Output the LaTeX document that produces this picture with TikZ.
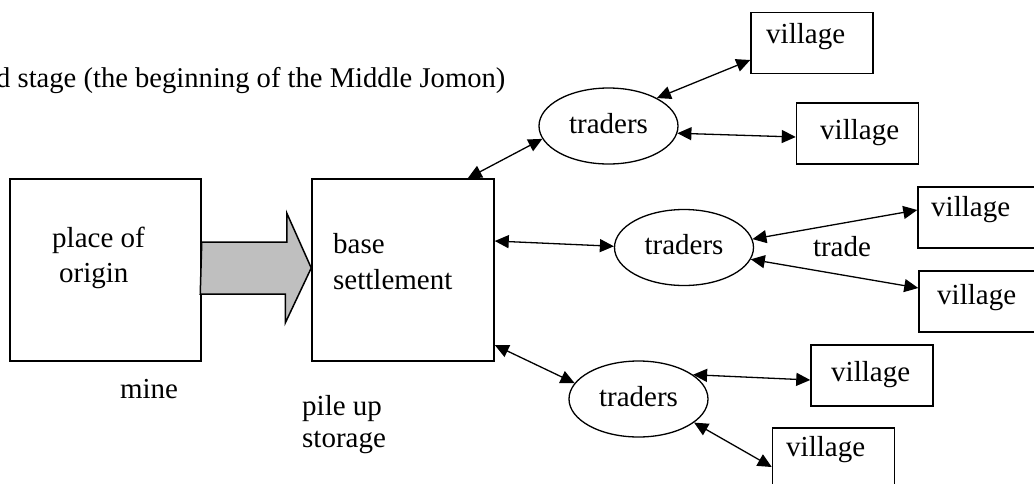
\documentclass[tikz,border=0pt]{standalone}
\usepackage{fontspec}
\setmainfont{Liberation Serif}
\usetikzlibrary{arrows.meta,shapes.geometric,calc}
\begin{document}
\begin{tikzpicture}[x=1pt,y=-1pt,
  txt/.style={inner sep=0pt,font=\fontsize{29}{35}\selectfont},
  bigbox/.style={draw,line width=1.5pt,minimum width=191pt,minimum height=182pt,inner sep=0pt},
  vbox/.style={draw,line width=1.5pt,minimum width=122pt,minimum height=61pt,inner sep=0pt},
  trader/.style={draw,ellipse,line width=1.3pt,minimum width=139pt,minimum height=76pt,inner sep=0pt,text depth=6pt,font=\fontsize{29}{35}\selectfont},
  link/.style={line width=1.3pt,{Triangle[length=14pt,width=13pt]}-{Triangle[length=14pt,width=13pt]}},
  blockarrow/.style={draw,line width=1.5pt,fill=black!25,line join=miter}
]
\useasboundingbox (0,0) rectangle (1034,483);
\clip (0,0) rectangle (1034,483);

\node[txt,anchor=base west,font=\fontsize{28.6}{35}\selectfont] (title) at (-4,87) {d stage (the beginning of the Middle Jomon)};

\node[bigbox] (origin) at (105.5,270) {};
\node[txt,align=left,anchor=north west] (origintext) at (52,227) {place of\\\hspace*{7pt}origin};
\node[bigbox,minimum width=182pt] (base) at (403,270) {};
\node[txt,align=left,anchor=north west,font=\fontsize{29}{36}\selectfont] (basetext) at (333,233) {base\\settlement};
\node[txt] (mine) at (149,389) {mine};
\node[txt,align=left,anchor=north west,font=\fontsize{29}{32}\selectfont] (pile) at (302,395) {pile up\\storage};

\coordinate (bs) at ([yshift=2pt]origin.east);
\coordinate (bt) at ([yshift=2pt]base.west);
\draw[blockarrow] (bs) ++(0,-26) -- ++(85,0) -- ++(0,-29) -- (bt) -- ++(-26,55) -- ++(0,-29) -- ++(-85,0) -- cycle;

\node[trader] (t1) at (608.5,126) {traders};
\node[trader] (t2) at (684,247.5) {traders};
\node[trader] (t3) at (638.5,399) {traders};

\node[vbox] (v1) at (812,43) {};
\node[txt,anchor=west] (v1t) at (766,37) {village};
\node[vbox] (v2) at (857.5,133.5) {};
\node[txt,anchor=west] (v2t) at (820,133) {village};
\node[vbox] (v3) at (979,217.5) {};
\node[txt,anchor=west] (v3t) at (931,210) {village};
\node[vbox] (v4) at (980,301.5) {};
\node[txt,anchor=west] (v4t) at (937,298) {village};
\node[vbox] (v5) at (872,375.5) {};
\node[txt,anchor=west] (v5t) at (831,375) {village};
\node[vbox] (v6) at (833.5,458.5) {};
\node[txt,anchor=west] (v6t) at (786,450) {village};

\node[txt] (trade) at (842,247) {trade};

\draw[link] ([xshift=-27pt]base.north east) -- (t1.191);
\draw[link] (t1.30.5) -- ([yshift=-17pt]v1.west);
\draw[link] (t1.-6.7) -- ([yshift=-3.5pt]v2.west);
\draw[link] ([yshift=29pt]base.east) -- (t2.179);
\draw[link] (t2.7.1) -- ([yshift=7.5pt]v3.west);
\draw[link] (t2.-10.6) -- ([yshift=13.5pt]v4.west);
\draw[link] ([yshift=-75pt]base.east) -- (t3.166.3);
\draw[link] (t3.24.2) -- ([yshift=-4.5pt]v5.west);
\draw[link] (t3.-23.4) -- ([yshift=-8.5pt]v6.west);
\end{tikzpicture}
\end{document}
